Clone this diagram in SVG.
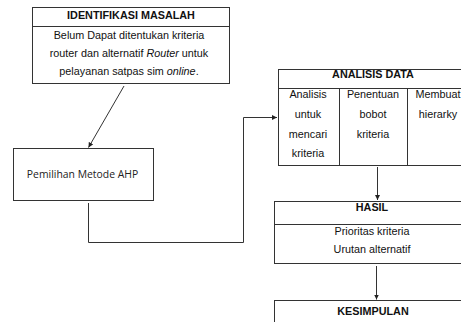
<svg xmlns="http://www.w3.org/2000/svg" width="461" height="322" viewBox="0 0 461 322">
<style>
.box{fill:#fff;stroke:#333;stroke-width:1}
.ln{fill:none;stroke:#333;stroke-width:1}
.t{font-family:"Liberation Sans",Arial,sans-serif;font-size:10.8px;fill:#111;text-anchor:middle}
.b{font-weight:bold}
.i{font-style:italic}
.c{font-family:"Open Sans","Noto Sans",sans-serif;font-size:10.4px;fill:#222;text-anchor:middle}
</style>
<defs>
<marker id="ah" markerWidth="6" markerHeight="6" refX="5" refY="3" orient="auto" markerUnits="userSpaceOnUse">
<path d="M0,0.5 L5,3 L0,5.5 Z" fill="#222"/>
</marker>
</defs>
<rect width="461" height="322" fill="#fff"/>
<g id="connectors">
<line class="ln" x1="124" y1="86" x2="88.5" y2="147.5" marker-end="url(#ah)"/>
<polyline class="ln" points="88.5,203 88.5,242.5 243.5,242.5 243.5,117.5 277,117.5" marker-end="url(#ah)"/>
<line class="ln" x1="377.5" y1="167" x2="377.5" y2="200" marker-end="url(#ah)"/>
<line class="ln" x1="376.5" y1="266" x2="376.5" y2="299.5" marker-end="url(#ah)"/>
</g>
<g id="identifikasi">
<rect class="box" x="32.5" y="7.5" width="197" height="76"/>
<line class="ln" x1="32.5" y1="26.5" x2="229.5" y2="26.5"/>
<text class="t b" x="131" y="19">IDENTIFIKASI MASALAH</text>
<text class="t" x="129" y="38.5">Belum Dapat ditentukan kriteria</text>
<text class="t" x="129" y="56.5">router dan alternatif <tspan class="i">Router</tspan> untuk</text>
<text class="t" x="129" y="74.5">pelayanan satpas sim <tspan class="i">online</tspan>.</text>
</g>
<g id="pemilihan">
<rect class="box" x="13.5" y="148.5" width="140" height="52"/>
<text class="c" x="82.5" y="178">Pemilihan Metode AHP</text>
</g>
<g id="analisis">
<rect class="box" x="278.5" y="69.5" width="192" height="96"/>
<line class="ln" x1="278.5" y1="88.5" x2="470" y2="88.5"/>
<line class="ln" x1="339.5" y1="88.5" x2="339.5" y2="165.5"/>
<line class="ln" x1="407.5" y1="88.5" x2="407.5" y2="165.5"/>
<text class="t b" x="373" y="77.5">ANALISIS DATA</text>
<text class="t" x="308" y="98">Analisis</text>
<text class="t" x="308" y="118">untuk</text>
<text class="t" x="308" y="137.5">mencari</text>
<text class="t" x="308" y="156.5">kriteria</text>
<text class="t" x="373" y="98">Penentuan</text>
<text class="t" x="373" y="118">bobot</text>
<text class="t" x="373" y="137.5">kriteria</text>
<text class="t" x="438" y="98">Membuat</text>
<text class="t" x="438" y="118">hierarky</text>
</g>
<g id="hasil">
<rect class="box" x="274.5" y="201.5" width="196" height="62"/>
<line class="ln" x1="274.5" y1="224.5" x2="470" y2="224.5"/>
<text class="t b" x="372" y="211">HASIL</text>
<text class="t" x="372" y="234.5">Prioritas kriteria</text>
<text class="t" x="372" y="252.5">Urutan alternatif</text>
</g>
<g id="kesimpulan">
<rect class="box" x="274.5" y="300.5" width="196" height="40"/>
<text class="t b" x="373" y="315">KESIMPULAN</text>
</g>
</svg>
